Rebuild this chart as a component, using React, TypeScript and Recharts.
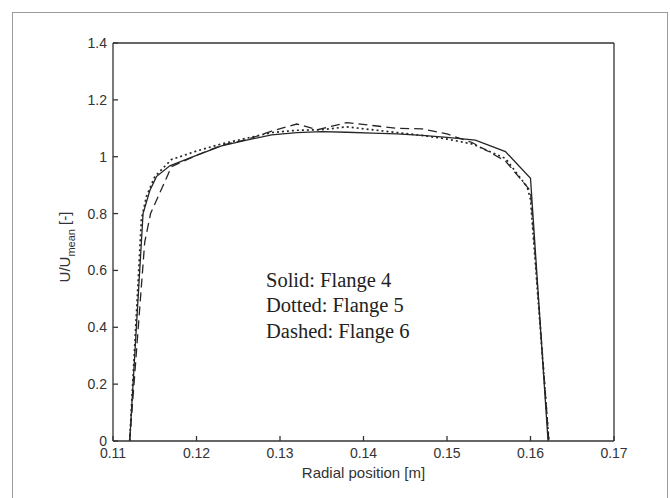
import { LineChart, Line, XAxis, YAxis, Label } from 'recharts';

// radial positions [m] and normalised velocity U/Umean for each flange
const flange4X = [0.112, 0.1136, 0.1144, 0.1152, 0.1168, 0.12, 0.123, 0.126, 0.129, 0.132, 0.135, 0.138, 0.141, 0.144, 0.147, 0.15, 0.1534, 0.157, 0.16, 0.1621];
const flange4Y = [0, 0.8, 0.88, 0.93, 0.968, 1.005, 1.038, 1.058, 1.077, 1.085, 1.088, 1.086, 1.083, 1.08, 1.075, 1.068, 1.058, 1.018, 0.924, 0];

const flange5X = [0.112, 0.1134, 0.114, 0.115, 0.117, 0.12, 0.123, 0.126, 0.129, 0.132, 0.135, 0.138, 0.141, 0.144, 0.147, 0.15, 0.153, 0.157, 0.1596, 0.16, 0.1622];
const flange5Y = [0, 0.78, 0.86, 0.93, 0.99, 1.02, 1.045, 1.065, 1.085, 1.093, 1.095, 1.105, 1.095, 1.085, 1.075, 1.062, 1.045, 0.994, 0.894, 0.85, 0];

const flange6X = [0.112, 0.1138, 0.1145, 0.117, 0.12, 0.123, 0.126, 0.129, 0.132, 0.1345, 0.138, 0.141, 0.144, 0.147, 0.15, 0.153, 0.157, 0.16, 0.1622];
const flange6Y = [0, 0.7, 0.8, 0.965, 1.005, 1.04, 1.06, 1.09, 1.115, 1.095, 1.12, 1.11, 1.1, 1.098, 1.08, 1.05, 0.985, 0.88, 0];

const xTicks = [0.11, 0.12, 0.13, 0.14, 0.15, 0.16, 0.17];
const yTicks = [0, 0.2, 0.4, 0.6, 0.8, 1, 1.2, 1.4];
const notes = ['Solid: Flange 4', 'Dotted: Flange 5', 'Dashed: Flange 6'];

const toPoints = (xs: number[], ys: number[]) => xs.map((x, i) => ({ x, y: ys[i] }));

const flange4 = toPoints(flange4X, flange4Y);
const flange5 = toPoints(flange5X, flange5Y);
const flange6 = toPoints(flange6X, flange6Y);

const axisColor = '#333';
const inkColor = '#262626';
const sans = '"Liberation Sans", Arial, sans-serif';
const tickFont = { fontSize: 14, fill: '#333', fontFamily: sans };

const YTitle = (props: any) => {
    const vb = props.viewBox || {};
    const cx = vb.x + 17;
    const cy = vb.y + vb.height / 2 + 5;
    return (
        <text
            x={cx}
            y={cy}
            transform={`rotate(-90, ${cx}, ${cy})`}
            textAnchor="middle"
            fill="#333"
            fontSize={15}
            fontFamily={sans}
        >
            U/U<tspan dy={5} fontSize={11}>mean</tspan><tspan dy={-5}> [-]</tspan>
        </text>
    );
};

const App = () => {
    return (
        <div style={{ position: 'absolute', left: 0, top: 0, width: 670, height: 498, overflow: 'hidden', background: '#fff' }}>
            <div style={{ position: 'absolute', left: 12, top: 12, width: 654, height: 500, border: '1px solid #9a9a9a' }} />
            <div style={{ position: 'absolute', left: 0, top: 0 }}>
                <LineChart width={670} height={498} margin={{ top: 42, right: 55, left: 53, bottom: 27 }}>
                    <XAxis
                        xAxisId="bottom"
                        dataKey="x"
                        type="number"
                        domain={[0.11, 0.17]}
                        ticks={xTicks}
                        allowDataOverflow
                        height={30}
                        stroke={axisColor}
                        strokeWidth={1.3}
                        tickSize={-5}
                        tickMargin={12}
                        tick={tickFont}
                        tickFormatter={(v: number) => v.toFixed(2)}
                    >
                        <Label value="Radial position [m]" position="bottom" offset={-4} fill="#333" fontSize={15} fontFamily={sans} />
                    </XAxis>
                    <XAxis
                        xAxisId="top"
                        dataKey="x"
                        type="number"
                        orientation="top"
                        domain={[0.11, 0.17]}
                        ticks={xTicks}
                        allowDataOverflow
                        height={1}
                        stroke={axisColor}
                        strokeWidth={1.3}
                        tickSize={-5}
                        tick={false}
                    />
                    <YAxis
                        yAxisId="left"
                        type="number"
                        domain={[0, 1.4]}
                        ticks={yTicks}
                        allowDataOverflow
                        width={60}
                        stroke={axisColor}
                        strokeWidth={1.3}
                        tickSize={-5}
                        tickMargin={11}
                        tick={tickFont}
                        tickFormatter={(v: number) => String(v)}
                    >
                        <Label content={<YTitle />} />
                    </YAxis>
                    <YAxis
                        yAxisId="right"
                        orientation="right"
                        type="number"
                        domain={[0, 1.4]}
                        ticks={yTicks}
                        allowDataOverflow
                        width={1}
                        stroke={axisColor}
                        strokeWidth={1.3}
                        tickSize={-5}
                        tick={false}
                    />
                    <Line data={flange4} xAxisId="bottom" yAxisId="left" dataKey="y" type="linear" stroke={inkColor} strokeWidth={1.3} dot={false} isAnimationActive={false} />
                    <Line data={flange5} xAxisId="bottom" yAxisId="left" dataKey="y" type="linear" stroke={inkColor} strokeWidth={1.7} strokeDasharray="2 3" dot={false} isAnimationActive={false} />
                    <Line data={flange6} xAxisId="bottom" yAxisId="left" dataKey="y" type="linear" stroke={inkColor} strokeWidth={1.3} strokeDasharray="9 5" dot={false} isAnimationActive={false} />
                    <text x={266} y={287} fill="#222" fontSize={20.5} fontFamily='"Liberation Serif", "Times New Roman", serif'>
                        {notes.map((n, i) => (
                            <tspan key={n} x={266} dy={i === 0 ? 0 : 25.3}>{n}</tspan>
                        ))}
                    </text>
                </LineChart>
            </div>
        </div>
    );
};

export default App;
